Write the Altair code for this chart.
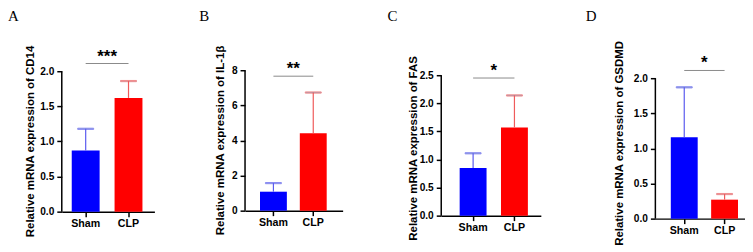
import altair as alt
import pandas as pd

# ---------------- data ----------------
groups = ["Sham", "CLP"]
letters = ["A", "B", "C", "D"]
genes = ["CD14", "IL-1β", "FAS", "GSDMD"]
means = [[0.87, 1.62], [1.08, 4.41], [0.85, 1.57], [1.16, 0.27]]
upper = [[1.18, 1.86], [1.57, 6.73], [1.11, 2.14], [1.87, 0.35]]
signif = ["***", "**", "*", "*"]
sig_level = [2.11, 7.66, 2.45, 2.11]
y_ticks = [[0, 0.5, 1.0, 1.5, 2.0], [0, 2, 4, 6, 8],
           [0, 0.5, 1.0, 1.5, 2.0, 2.5], [0, 0.5, 1.0, 1.5, 2.0]]
y_formats = [".1f", "d", ".1f", ".1f"]

bar_colors = ["#0000FF", "#FF0000"]
err_colors = ["#5b5bef", "#ef5b5b"]

# ---------------- layout (pixels) ----------------
T = 70  # common top of plot areas
SPACING = 45
layout = [
    dict(W=93, L=10, bw=28, st=43, top=71, bottom=212, tx=-31.5, tyc=141, ldx=-54, ldy=-17),
    dict(W=98, L=15, bw=27, st=40, top=70, bottom=211, tx=-25, tyc=140, ldx=-46, ldy=-17),
    dict(W=100, L=18.5, bw=27, st=41.5, top=75, bottom=216, tx=-28, tyc=148, ldx=-54, ldy=-27),
    dict(W=90, L=15.5, bw=27, st=40.5, top=78, bottom=219, tx=-36, tyc=143, ldx=-70, ldy=-12.5),
]
SANS = "Liberation Sans"
SERIF = "Liberation Serif"


def panel(i):
    lay = layout[i]
    ymax = y_ticks[i][-1]
    ht = lay["bottom"] - T
    dmax = ymax * ht / (lay["bottom"] - lay["top"])
    pi = (lay["st"] - lay["bw"]) / lay["st"]
    po = (lay["W"] / lay["st"] - 2 + pi) / 2
    al = lay["L"] / (lay["W"] - lay["st"] - lay["bw"])

    df = pd.DataFrame({"group": groups, "mean": means[i], "upper": upper[i]})
    sig = pd.DataFrame({"a": [groups[0]], "b": [groups[1]], "lvl": [sig_level[i]],
                        "txt": [signif[i]]})
    ax = pd.DataFrame({"y0": [0.0], "y1": [float(ymax)]})

    xscale = alt.Scale(type="band", domain=groups, paddingInner=pi,
                       paddingOuter=po, align=al, round=False)
    xaxis = alt.Axis(title=None, labelAngle=0, labelFont=SANS, labelFontSize=10.7,
                     labelFontWeight="bold", labelColor="black", domainColor="black",
                     domainWidth=1.5, tickColor="black", tickWidth=1.5, tickSize=5,
                     labelPadding=2, grid=False)
    yscale = alt.Scale(domain=[0, dmax], nice=False, zero=True)
    yaxis = alt.Axis(values=y_ticks[i], format=y_formats[i], domain=False, grid=False,
                     tickColor="black", tickWidth=1.5, tickSize=5, labelPadding=3,
                     labelFont=SANS, labelFontSize=10.2, labelFontWeight="bold",
                     labelColor="black",
                     title=f"Relative mRNA expression of {genes[i]}",
                     titleFont=SANS, titleFontSize=11.5, titleFontWeight="bold",
                     titleColor="black", titleX=lay["tx"], titleY=lay["tyc"] - T,
                     titleBaseline="middle", titleAlign="center", titleAngle=270)

    def X(f):
        return alt.X(f"{f}:N", scale=xscale, axis=xaxis)

    def Y(f):
        return alt.Y(f"{f}:Q", scale=yscale, axis=yaxis)

    bars = alt.Chart(df).mark_bar().encode(
        x=X("group"), y=Y("mean"),
        color=alt.Color("group:N", scale=alt.Scale(domain=groups, range=bar_colors),
                        legend=None))
    stems = alt.Chart(df).mark_rule(strokeWidth=1.2).encode(
        x=X("group"), y=Y("mean"), y2="upper:Q",
        stroke=alt.Stroke("group:N", scale=alt.Scale(domain=groups, range=err_colors),
                          legend=None))
    caps = alt.Chart(df).mark_tick(size=16, thickness=1.2).encode(
        x=X("group"), y=Y("upper"),
        stroke=alt.Stroke("group:N", scale=alt.Scale(domain=groups, range=err_colors),
                          legend=None))
    yline = alt.Chart(ax).mark_rule(color="black", strokeWidth=1.5).encode(
        x=alt.value(0), y=Y("y0"), y2="y1:Q")
    sline = alt.Chart(sig).mark_rule(color="#8a8a8a", strokeWidth=1).encode(
        x=X("a"), x2="b:N", y=Y("lvl"))
    stars = alt.Chart(sig).mark_text(font=SANS, fontSize=17, fontWeight="bold",
                                     color="black", baseline="alphabetic",
                                     dx=lay["st"] / 2, dy=-2).encode(
        x=X("a"), y=Y("lvl"), text="txt:N")

    return alt.layer(bars, stems, caps, yline, sline, stars).properties(
        width=lay["W"], height=ht,
        title=alt.TitleParams(letters[i], anchor="start", frame="group",
                              dx=lay["ldx"], dy=lay["ldy"], font=SERIF, fontSize=15,
                              fontWeight="normal", color="black"),
    )


chart = alt.hconcat(*[panel(i) for i in range(4)], spacing=SPACING).properties(
    padding=0).configure_view(stroke=None)

chart.save("out.html", embed_options={"renderer": "svg", "actions": False})
